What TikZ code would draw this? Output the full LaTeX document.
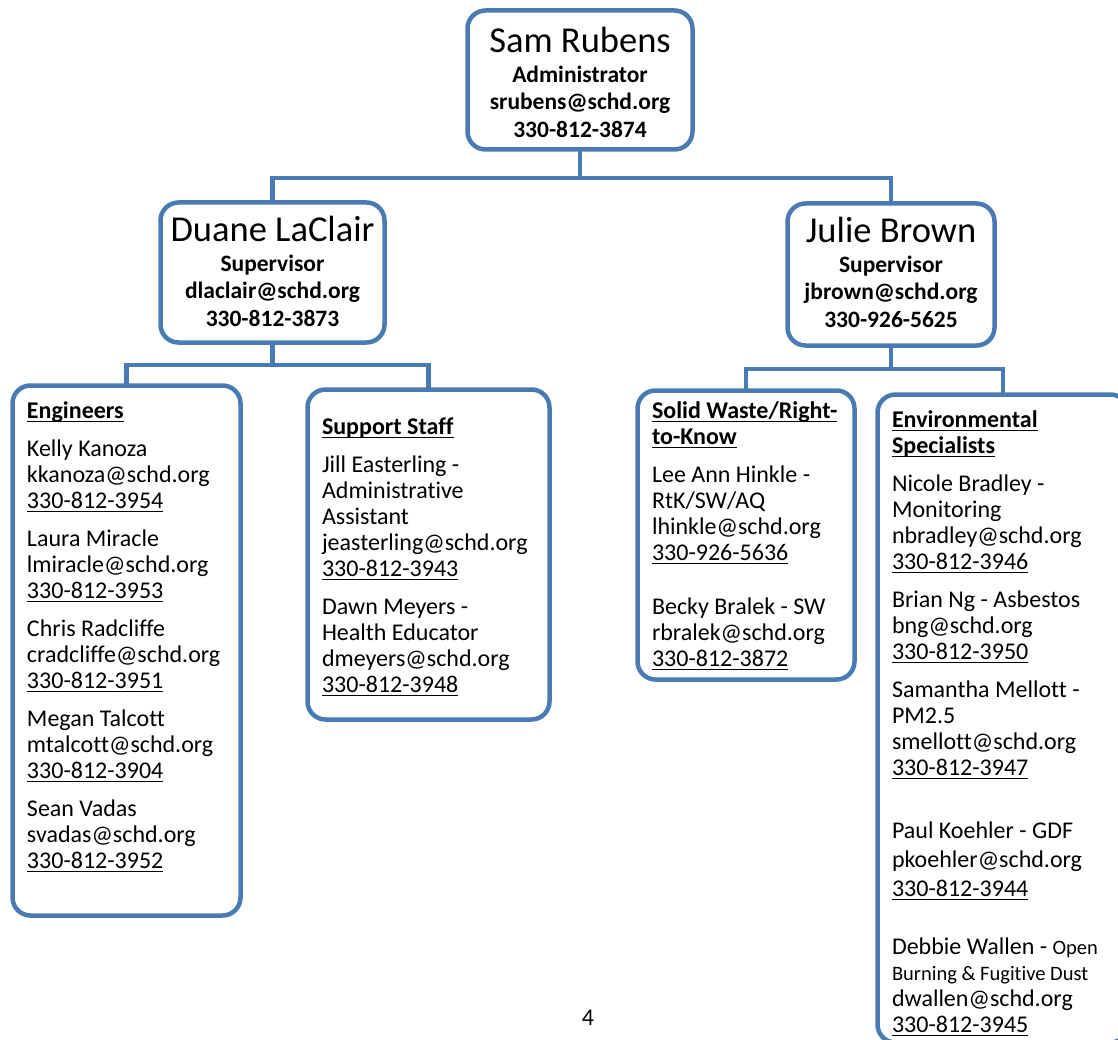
\documentclass[tikz,border=0pt]{standalone}
\usepackage{fontspec}
\setmainfont{Carlito}[Ligatures=NoCommon]
\usepackage{xcolor}
\usepackage{tikz}
\definecolor{orgblue}{RGB}{74,122,180}
\newcommand{\ulin}[1]{\leavevmode\setbox0\hbox{#1}\rlap{\rule[-4pt]{\wd0}{1.2pt}}\box0}
\newcommand{\chiefbody}[5]{\parbox[c][#1][t]{#2}{\centering\vspace*{#3}%
  {\fontsize{36.5}{40}\selectfont\strut #4\par}%
  {\fontsize{23.5}{27.5}\selectfont\bfseries #5\par}}}
\newcommand{\leafbody}[4]{\parbox[c][#1][t]{#2}{\raggedright
  \hyphenpenalty=10000 \fontsize{24}{26}\selectfont\vspace*{#3}\strut #4}}

\begin{document}
\begin{tikzpicture}[
  x=1pt, y=-1pt,
  box/.style={draw=orgblue, line width=4.5pt, rounded corners=18pt, fill=white,
              inner sep=0pt, outer sep=0pt, anchor=north west},
  link/.style={draw=orgblue, line width=4.5pt},
]
\useasboundingbox (0,0) rectangle (1118,1040);
\clip (0,0) rectangle (1118,1040);

% top level
\node[box, minimum width=225pt, minimum height=139pt] (sam) at (467.5,10.5)
  {\chiefbody{139pt}{225pt}{14.5pt}{Sam Rubens}{Administrator\\ srubens@schd.org\\ 330-812-3874}};

% supervisors
\node[box, minimum width=224pt, minimum height=140pt] (duane) at (160.5,202.5)
  {\chiefbody{140pt}{224pt}{11.5pt}{Duane LaClair}{Supervisor\\ dlaclair@schd.org\\ 330-812-3873}};
\node[box, minimum width=207pt, minimum height=142pt] (julie) at (787.5,203.5)
  {\chiefbody{142pt}{207pt}{11.5pt}{Julie Brown}{Supervisor\\ jbrown@schd.org\\ 330-926-5625}};

% staff groups
\node[box, minimum width=228pt, minimum height=530pt] (eng) at (12.5,385.5)
  {\leafbody{530pt}{199pt}{14.3pt}{\textbf{\ulin{Engineers}}\par\setlength{\parskip}{12pt}
   Kelly Kanoza\\ kkanoza@schd.org\\ \ulin{330-812-3954}\par
   Laura Miracle\\ lmiracle@schd.org\\ \ulin{330-812-3953}\par
   Chris Radcliffe\\ cradcliffe@schd.org\\ \ulin{330-812-3951}\par
   Megan Talcott\\ mtalcott@schd.org\\ \ulin{330-812-3904}\par
   Sean Vadas\\ svadas@schd.org\\ \ulin{330-812-3952}\par}};
\node[box, minimum width=242pt, minimum height=330pt] (supp) at (307.5,389.5)
  {\leafbody{330pt}{213pt}{26.3pt}{\textbf{\ulin{Support Staff}}\par\setlength{\parskip}{12pt}
   Jill Easterling -\\ Administrative\\ Assistant\\ jeasterling@schd.org\\ \ulin{330-812-3943}\par
   Dawn Meyers -\\ Health Educator\\ dmeyers@schd.org\\ \ulin{330-812-3948}\par}};
\node[box, minimum width=217pt, minimum height=289pt] (solid) at (637.5,390.5)
  {\leafbody{289pt}{188pt}{9.3pt}{\textbf{\ulin{Solid Waste/Right-}\\ \ulin{to-Know}}\par\setlength{\parskip}{12pt}
   Lee Ann Hinkle -\\ RtK/SW/AQ\\ lhinkle@schd.org\\ \ulin{330-926-5636}\par
   \vspace{16pt}
   Becky Bralek - SW\\ rbralek@schd.org\\ \ulin{330-812-3872}\par}};
\node[box, minimum width=251pt, minimum height=648pt] (env) at (877.5,394.5)
  {\leafbody{648pt}{222pt}{14.3pt}{\textbf{\ulin{Environmental}\\ \ulin{Specialists}}\par\setlength{\parskip}{12pt}
   Nicole Bradley -\\ Monitoring\\ nbradley@schd.org\\ \ulin{330-812-3946}\par
   Brian Ng - Asbestos\\ bng@schd.org\\ \ulin{330-812-3950}\par
   Samantha Mellott -\\ PM2.5\\ smellott@schd.org\\ \ulin{330-812-3947}\par
   \vspace{22pt}
   {\fontsize{24}{29}\selectfont Paul Koehler - GDF\\ pkoehler@schd.org\\ \ulin{330-812-3944}\par}
   \vspace{20pt}
   Debbie Wallen - {\fontsize{20.5}{22}\selectfont Open}\\
   {\fontsize{20.5}{22}\selectfont Burning \& Fugitive Dust}\\ dwallen@schd.org\\ \ulin{330-812-3945}\par}};

% connectors
\coordinate (samfork) at (sam.south |- 0,178);
\coordinate (duanefork) at (duane.south |- 0,365);
\coordinate (juliefork) at (julie.south |- 0,369);
\draw[link] (sam.south) -- (samfork) -| (duane.north);
\draw[link] (samfork) -| (julie.north);
\draw[link] (duane.south) -- (duanefork) -| (eng.north);
\draw[link] (duanefork) -| (supp.north);
\draw[link] (julie.south) -- (juliefork) -| (solid.north);
\draw[link] (juliefork) -| (env.north);

\node[font=\fontsize{24}{26}\selectfont] (pagenum) at (588,1018) {4};
\end{tikzpicture}
\end{document}
